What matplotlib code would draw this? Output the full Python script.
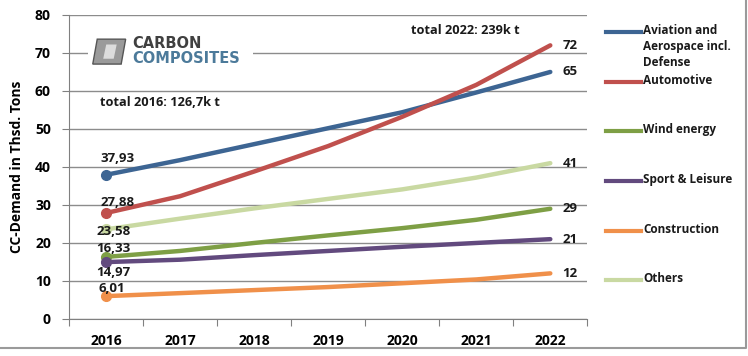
import matplotlib
matplotlib.use("Agg")
from matplotlib import pyplot as plt
from matplotlib.lines import Line2D
from matplotlib.patches import Polygon, Rectangle

plt.rcParams['font.family'] = ['Open Sans', 'DejaVu Sans']
plt.rcParams['font.weight'] = 'bold'

years = [2016, 2017, 2018, 2019, 2020, 2021, 2022]
aviation = [37.93, 41.8, 46.0, 50.2, 54.4, 59.6, 65]
automotive = [27.88, 32.3, 38.8, 45.5, 53.2, 61.6, 72]
wind = [16.33, 17.9, 20.0, 22.0, 23.9, 26.1, 29]
sport = [14.97, 15.6, 16.8, 17.9, 19.0, 20.0, 21]
construction = [6.01, 6.8, 7.6, 8.4, 9.4, 10.4, 12]
others = [23.58, 26.4, 29.1, 31.6, 34.1, 37.2, 41]

names = ["Aviation and\nAerospace incl.\nDefense", "Automotive", "Wind energy",
         "Sport & Leisure", "Construction", "Others"]
series = [aviation, automotive, wind, sport, construction, others]
colors = ["#3D6593", "#C0504D", "#7E9F45", "#624A7E", "#F0904A", "#C9D9A2"]
start_labels = ["37,93", "27,88", "16,33", "14,97", "6,01", "23,58"]
end_labels = ["65", "72", "29", "21", "12", "41"]
start_off = [(12, 16), (12, 11), (7, 8), (7, -10), (6, 8), (8, -2)]

fig = plt.figure(figsize=(7.48, 3.56), dpi=100)
ax = fig.add_axes([0.0922, 0.104, 0.693, 0.854])

for vals, c in zip(series, colors):
    ax.plot(years, vals, color=c, linewidth=3.2, solid_capstyle='round', zorder=3)
    ax.plot(years[0], vals[0], 'o', color=c, markersize=7, zorder=4)

for vals, lab, off in zip(series, start_labels, start_off):
    ax.annotate(lab, (years[0], vals[0]), xytext=off, textcoords='offset pixels',
                ha='center', va='center', fontsize=9.5, fontweight='bold', color='#1a1a1a', zorder=5)
for vals, lab in zip(series, end_labels):
    ax.annotate(lab, (years[-1], vals[-1]), xytext=(12, 0), textcoords='offset pixels',
                ha='left', va='center', fontsize=9.5, fontweight='bold', color='#1a1a1a', zorder=5)

ax.set_xlim(2015.5, 2022.5)
ax.set_ylim(0, 80)
ax.set_yticks(range(0, 81, 10))
ax.set_xticks([y - 0.5 for y in years] + [2022.5])
ax.set_xticklabels([])
ax.set_xticks(years, minor=True)
ax.set_xticklabels([str(y) for y in years], minor=True)
ax.tick_params(axis='x', which='major', length=5, color='#808080', direction='out')
ax.tick_params(axis='x', which='minor', length=0, pad=11, labelsize=10)
ax.tick_params(axis='y', length=5, color='#808080', labelsize=10, pad=8)
ax.grid(axis='y', color='#8c8c8c', linewidth=1.0, zorder=0)
for s in ['top', 'right']:
    ax.spines[s].set_visible(False)
for s in ['left', 'bottom']:
    ax.spines[s].set_color('#808080')
ax.set_ylabel("CC-Demand in Thsd. Tons", fontsize=10, fontweight='bold', labelpad=8)

ax.text(0.06, 0.70, "total 2016: 126,7k t", transform=ax.transAxes, fontsize=9.2,
        fontweight='bold', color='#1a1a1a')
ax.text(0.66, 0.937, "total 2022: 239k t", transform=ax.transAxes, fontsize=9.2,
        fontweight='bold', color='#1a1a1a')

# logo
fig.add_artist(Rectangle((0.118, 0.79), 0.22, 0.11, transform=fig.transFigure,
                         facecolor='white', edgecolor='none', zorder=2))
fig.add_artist(Polygon([[0.124, 0.82], [0.130, 0.89], [0.168, 0.89], [0.162, 0.82]],
                       closed=True, transform=fig.transFigure, facecolor='#9a9a9a',
                       edgecolor='#555555', linewidth=1, zorder=3))
fig.add_artist(Polygon([[0.138, 0.835], [0.142, 0.875], [0.156, 0.875], [0.152, 0.835]],
                       closed=True, transform=fig.transFigure, facecolor='#dcdcdc',
                       edgecolor='none', zorder=4))
fig.text(0.177, 0.878, "CARBON", fontsize=10.5, fontweight='bold', color='#404040',
         family='DejaVu Sans', va='center', zorder=5)
fig.text(0.177, 0.837, "COMPOSITES", fontsize=10.5, fontweight='bold', color='#4C7A9A',
         family='DejaVu Sans', va='center', zorder=5)

# legend
leg_y = [356 - 32, 356 - 82, 356 - 131, 356 - 181, 356 - 231, 356 - 280]
for name, c, yy in zip(names, colors, leg_y):
    yf = yy / 356
    fig.add_artist(Line2D([606 / 748, 641 / 748], [yf, yf], color=c, linewidth=3,
                          transform=fig.transFigure))
    fig.text(643 / 748, yf + 0.022, name, fontsize=8.5, fontweight='bold', color='#1a1a1a',
             va='top', ha='left', linespacing=1.3)

fig.add_artist(Line2D([0, 745.5 / 748, 745.5 / 748], [8 / 356, 8 / 356, 1],
                      color='#9a9a9a', linewidth=1.5, transform=fig.transFigure))

fig.savefig("out.png", dpi=100)
